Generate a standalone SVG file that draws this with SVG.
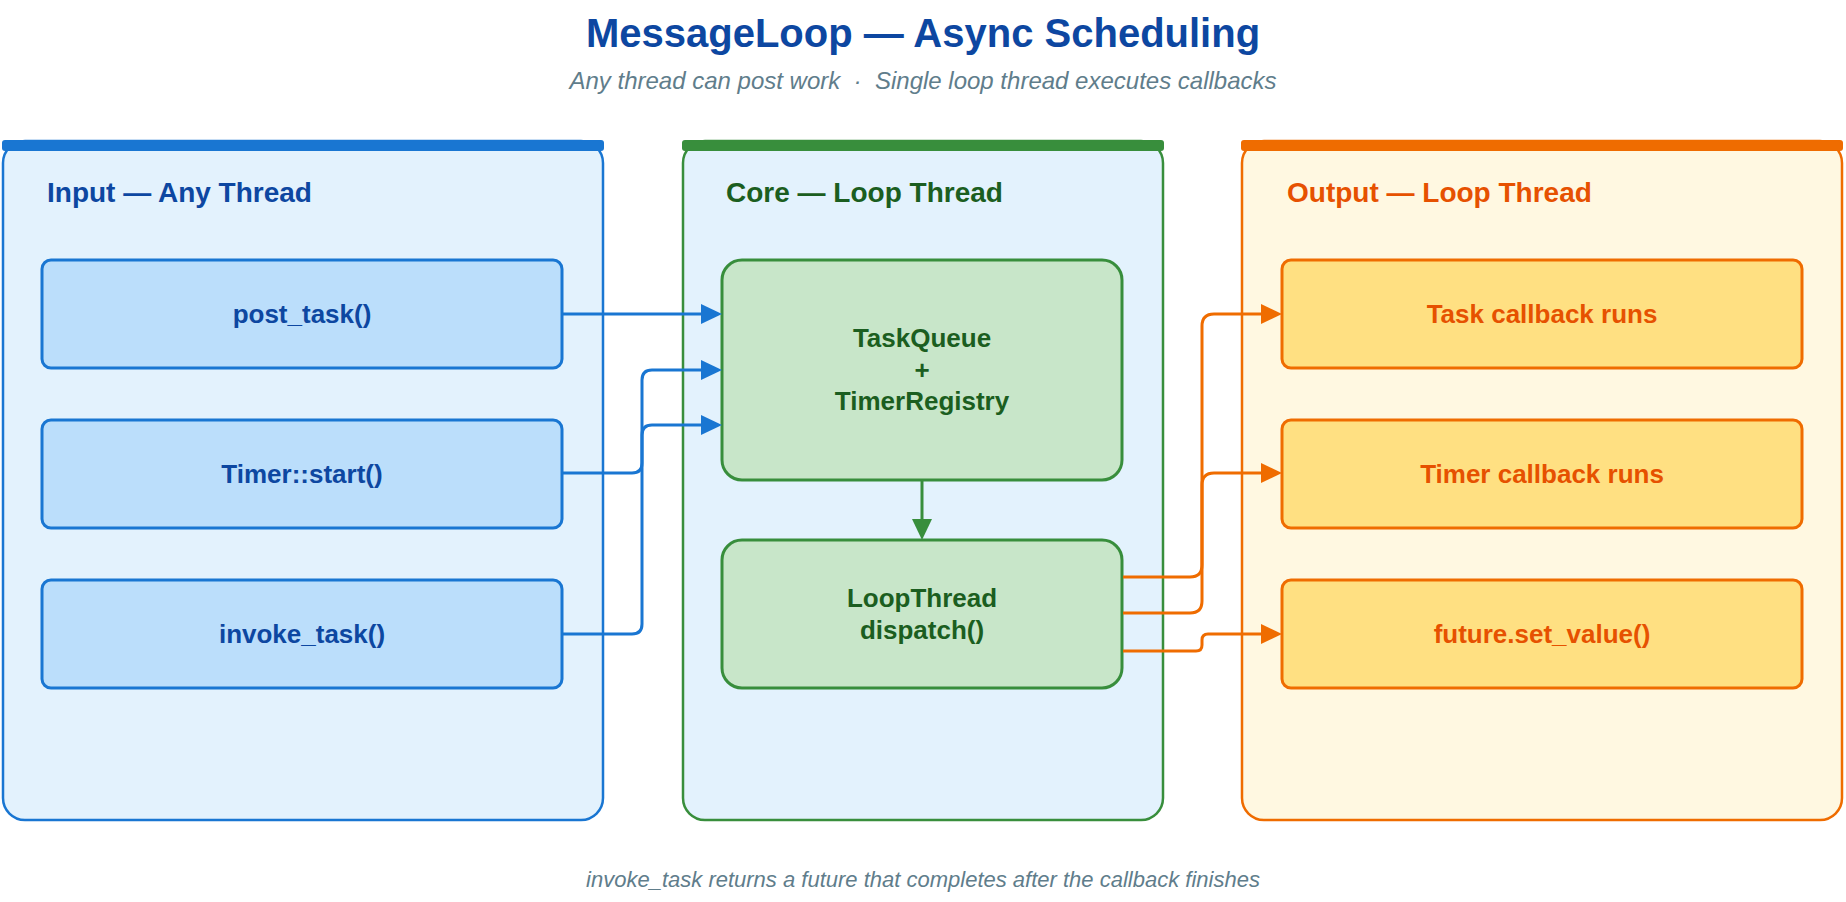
<svg xmlns="http://www.w3.org/2000/svg" width="1846" height="902" viewBox="0 0 1846 902">
<style>
text{font-family:"Liberation Sans",Arial,sans-serif}
.title{font-size:40px;font-weight:bold;fill:#0d47a1}
.sub{font-size:24px;font-style:italic;fill:#607d8b;white-space:pre}
.foot{font-size:22px;font-style:italic;fill:#607d8b}
.ptitle{font-size:28px;font-weight:bold}
.ntext{font-size:26px;font-weight:bold;text-anchor:middle}
.pin{fill:#e3f2fd;stroke:#1976d2;stroke-width:2.5}
.pcore{fill:#e3f2fd;stroke:#388e3c;stroke-width:2.5}
.pout{fill:#fff8e1;stroke:#ef6c00;stroke-width:2.5}
.nin{fill:#bbdefb;stroke:#1976d2;stroke-width:3}
.ncore{fill:#c8e6c9;stroke:#388e3c;stroke-width:3}
.nout{fill:#ffe082;stroke:#ef6c00;stroke-width:3}
.tin{fill:#0d47a1}
.tcore{fill:#1b5e20}
.tout{fill:#e65100}
.c{fill:none;stroke-width:3}
.cb{stroke:#1976d2;marker-end:url(#ab)}
.cg{stroke:#388e3c;marker-end:url(#ag)}
.co{stroke:#ef6c00;marker-end:url(#ao)}
</style>
<defs>
<marker id="ab" viewBox="0 0 21 20" refX="11" refY="10" markerWidth="21" markerHeight="20" markerUnits="userSpaceOnUse" orient="auto"><path d="M0,0 L21,10 L0,20 z" fill="#1976d2"/></marker>
<marker id="ag" viewBox="0 0 21 20" refX="11" refY="10" markerWidth="21" markerHeight="20" markerUnits="userSpaceOnUse" orient="auto"><path d="M0,0 L21,10 L0,20 z" fill="#388e3c"/></marker>
<marker id="ao" viewBox="0 0 21 20" refX="11" refY="10" markerWidth="21" markerHeight="20" markerUnits="userSpaceOnUse" orient="auto"><path d="M0,0 L21,10 L0,20 z" fill="#ef6c00"/></marker>
</defs>
<rect width="1846" height="902" fill="#ffffff"/>
<text class="title" x="923" y="47" text-anchor="middle">MessageLoop — Async Scheduling</text>
<text class="sub" x="923" y="89" text-anchor="middle" xml:space="preserve">Any thread can post work  ·  Single loop thread executes callbacks</text>

<g id="panel-input">
<rect class="pin" x="3" y="141" width="600" height="679" rx="22"/>
<rect x="2" y="140" width="602" height="11" rx="3" fill="#1976d2"/>
<text class="ptitle tin" x="47" y="202">Input — Any Thread</text>
</g>
<g id="panel-core">
<rect class="pcore" x="683" y="141" width="480" height="679" rx="22"/>
<rect x="682" y="140" width="482" height="11" rx="3" fill="#388e3c"/>
<text class="ptitle tcore" x="726" y="202">Core — Loop Thread</text>
</g>
<g id="panel-output">
<rect class="pout" x="1242" y="141" width="600" height="679" rx="22"/>
<rect x="1241" y="140" width="602" height="11" rx="3" fill="#ef6c00"/>
<text class="ptitle tout" x="1287" y="202">Output — Loop Thread</text>
</g>

<g id="node-post-task">
<rect class="nin" x="42" y="260" width="520" height="108" rx="9"/>
<text class="ntext tin" x="302" y="323">post_task()</text>
</g>
<g id="node-timer-start">
<rect class="nin" x="42" y="420" width="520" height="108" rx="9"/>
<text class="ntext tin" x="302" y="483">Timer::start()</text>
</g>
<g id="node-invoke-task">
<rect class="nin" x="42" y="580" width="520" height="108" rx="9"/>
<text class="ntext tin" x="302" y="643">invoke_task()</text>
</g>

<g id="node-taskqueue">
<rect class="ncore" x="722" y="260" width="400" height="220" rx="20"/>
<text class="ntext tcore" x="922" y="347">TaskQueue</text>
<text class="ntext tcore" x="922" y="379">+</text>
<text class="ntext tcore" x="922" y="410">TimerRegistry</text>
</g>
<g id="node-loopthread">
<rect class="ncore" x="722" y="540" width="400" height="148" rx="20"/>
<text class="ntext tcore" x="922" y="607">LoopThread</text>
<text class="ntext tcore" x="922" y="639">dispatch()</text>
</g>

<g id="node-task-callback">
<rect class="nout" x="1282" y="260" width="520" height="108" rx="9"/>
<text class="ntext tout" x="1542" y="323">Task callback runs</text>
</g>
<g id="node-timer-callback">
<rect class="nout" x="1282" y="420" width="520" height="108" rx="9"/>
<text class="ntext tout" x="1542" y="483">Timer callback runs</text>
</g>
<g id="node-future">
<rect class="nout" x="1282" y="580" width="520" height="108" rx="9"/>
<text class="ntext tout" x="1542" y="643">future.set_value()</text>
</g>

<g id="connectors">
<path class="c cb" d="M563,314 H712"/>
<path class="c cb" d="M563,473 H632 Q642,473 642,463 V380 Q642,370 652,370 H712"/>
<path class="c cb" d="M563,634 H632 Q642,634 642,624 V435 Q642,425 652,425 H712"/>
<path class="c cg" d="M922,481 V530"/>
<path class="c co" d="M1123,577 H1190 Q1202,577 1202,565 V326 Q1202,314 1214,314 H1272"/>
<path class="c co" d="M1123,613 H1190 Q1202,613 1202,601 V485 Q1202,473 1214,473 H1272"/>
<path class="c co" d="M1123,651 H1196 Q1202,651 1202,645 V640 Q1202,634 1208,634 H1272"/>
</g>

<text class="foot" x="923" y="887" text-anchor="middle">invoke_task returns a future that completes after the callback finishes</text>
</svg>
